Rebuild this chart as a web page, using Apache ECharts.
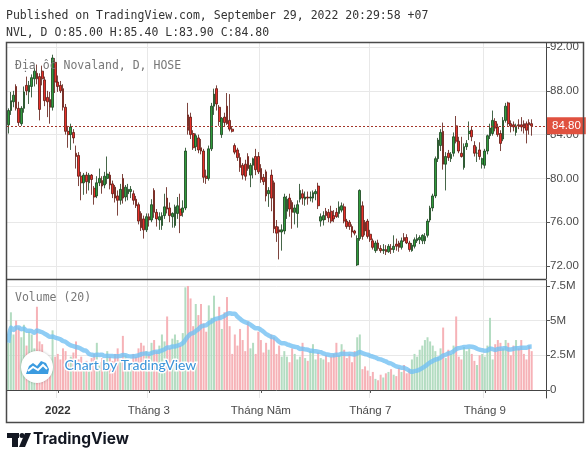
<!DOCTYPE html>
<html><head><meta charset="utf-8">
<script src="https://cdn.jsdelivr.net/npm/echarts@6/dist/echarts.min.js"></script>
<style>html,body{margin:0;padding:0;background:#fff;}#c{width:588px;height:460px;}</style>
</head><body><div id="c"></div>
<script>
const dates = [
'2021-12-07','2021-12-08','2021-12-09','2021-12-10','2021-12-13','2021-12-14','2021-12-15','2021-12-16','2021-12-17','2021-12-20','2021-12-21','2021-12-22','2021-12-23','2021-12-24','2021-12-27','2021-12-28','2021-12-29','2021-12-30','2021-12-31',
'2022-01-04','2022-01-05','2022-01-06','2022-01-07','2022-01-10','2022-01-11','2022-01-12','2022-01-13','2022-01-14','2022-01-17','2022-01-18','2022-01-19','2022-01-20','2022-01-21','2022-01-24','2022-01-25','2022-01-26','2022-01-27','2022-01-28',
'2022-02-07','2022-02-08','2022-02-09','2022-02-10','2022-02-11','2022-02-14','2022-02-15','2022-02-16','2022-02-17','2022-02-18','2022-02-21','2022-02-22','2022-02-23','2022-02-24','2022-02-25','2022-02-28',
'2022-03-01','2022-03-02','2022-03-03','2022-03-04','2022-03-07','2022-03-08','2022-03-09','2022-03-10','2022-03-11','2022-03-14','2022-03-15','2022-03-16','2022-03-17','2022-03-18','2022-03-21','2022-03-22','2022-03-23','2022-03-24','2022-03-25','2022-03-28','2022-03-29','2022-03-30','2022-03-31',
'2022-04-01','2022-04-04','2022-04-05','2022-04-06','2022-04-07','2022-04-08','2022-04-12','2022-04-13','2022-04-14','2022-04-15','2022-04-18','2022-04-19','2022-04-20','2022-04-21','2022-04-22','2022-04-25','2022-04-26','2022-04-27','2022-04-28','2022-04-29',
'2022-05-04','2022-05-05','2022-05-06','2022-05-09','2022-05-10','2022-05-11','2022-05-12','2022-05-13','2022-05-16','2022-05-17','2022-05-18','2022-05-19','2022-05-20','2022-05-23','2022-05-24','2022-05-25','2022-05-26','2022-05-27','2022-05-30','2022-05-31',
'2022-06-01','2022-06-02','2022-06-03','2022-06-06','2022-06-07','2022-06-08','2022-06-09','2022-06-10','2022-06-13','2022-06-14','2022-06-15','2022-06-16','2022-06-17','2022-06-20','2022-06-21','2022-06-22','2022-06-23','2022-06-24','2022-06-27','2022-06-28','2022-06-29','2022-06-30',
'2022-07-01','2022-07-04','2022-07-05','2022-07-06','2022-07-07','2022-07-08','2022-07-11','2022-07-12','2022-07-13','2022-07-14','2022-07-15','2022-07-18','2022-07-19','2022-07-20','2022-07-21','2022-07-22','2022-07-25','2022-07-26','2022-07-27','2022-07-28','2022-07-29',
'2022-08-01','2022-08-02','2022-08-03','2022-08-04','2022-08-05','2022-08-08','2022-08-09','2022-08-10','2022-08-11','2022-08-12','2022-08-15','2022-08-16','2022-08-17','2022-08-18','2022-08-19','2022-08-22','2022-08-23','2022-08-24','2022-08-25','2022-08-26','2022-08-29','2022-08-30','2022-08-31',
'2022-09-05','2022-09-06','2022-09-07','2022-09-08','2022-09-09','2022-09-12','2022-09-13','2022-09-14','2022-09-15','2022-09-16','2022-09-19','2022-09-20','2022-09-21','2022-09-22','2022-09-23','2022-09-26','2022-09-27','2022-09-28','2022-09-29'
];
// empty slots to the right of the last bar (right margin of the time scale)
const futureDates = ['2022-09-30','2022-10-03','2022-10-04','2022-10-05','2022-10-06'];

const open = [
84.9,86.2,87.0,88.4,86.4,85.0,86.4,88.5,87.9,88.4,89.1,89.6,89.3,89.8,89.0,87.4,87.2,86.5,90.6,
88.8,88.5,88.2,86.5,84.3,84.0,84.2,82.3,82.1,80.2,79.6,80.3,79.6,80.3,79.1,78.4,79.6,79.8,79.4,
80.0,80.3,79.5,79.2,78.4,78.0,80.0,78.3,78.6,78.8,78.6,78.1,77.6,76.8,76.3,75.3,
76.5,76.2,78.9,76.9,76.2,75.7,76.6,78.2,77.3,76.5,75.7,76.8,77.2,76.9,77.3,85.8,85.6,84.1,82.9,83.7,82.8,82.5,80.2,
80.0,82.7,86.6,88.2,86.5,84.0,85.6,86.6,85.3,84.5,83.0,82.6,81.9,81.2,81.3,82.0,80.3,81.2,82.0,82.0,
80.9,80.1,80.6,78.6,80.3,79.6,75.6,75.3,75.1,75.2,77.0,78.2,77.8,76.9,76.8,78.1,78.6,78.1,78.3,78.2,
78.2,78.6,79.3,76.1,76.2,77.0,76.9,77.0,76.6,76.9,76.8,77.1,77.4,76.1,76.0,75.6,75.2,72.1,74.5,77.5,76.0,76.1,
74.9,74.3,73.4,74.1,73.6,73.4,73.5,73.3,73.6,73.5,74.0,74.1,73.7,74.6,74.6,74.1,73.4,73.8,74.3,74.4,74.3,
74.3,74.8,76.2,77.3,78.4,81.8,83.0,84.3,81.3,82.3,81.8,82.3,84.8,83.4,82.3,81.0,82.9,84.1,84.4,83.0,82.3,82.6,81.3,
81.2,82.5,83.9,84.1,85.2,84.7,84.1,83.6,85.3,86.9,85.0,84.9,84.2,84.9,84.9,85.0,85.0,85.1,85.0
];
const high = [
86.4,87.9,88.0,88.6,87.0,86.6,88.4,89.3,88.9,89.5,90.1,90.4,89.6,90.3,89.3,88.0,87.9,91.3,91.0,
89.4,88.9,88.6,86.8,84.8,85.0,84.5,83.0,82.4,80.6,80.5,80.6,80.5,80.4,79.3,80.2,80.9,80.2,80.6,
82.0,80.6,79.8,79.4,78.9,79.5,80.4,79.4,79.5,79.3,78.9,78.4,77.8,77.0,76.6,76.8,
76.8,78.1,79.1,77.2,76.9,76.9,78.6,79.2,77.8,76.9,77.6,78.3,78.6,78.0,82.8,86.9,86.0,84.4,84.1,84.0,83.6,82.7,80.8,
83.0,86.9,88.2,88.5,86.7,85.6,86.0,87.8,87.7,84.7,83.2,82.8,82.3,81.4,81.7,82.3,81.4,81.9,82.7,82.4,
81.3,80.4,80.8,79.2,80.8,79.8,76.2,75.6,75.8,78.6,78.4,78.6,78.0,77.6,78.0,79.5,79.0,78.8,78.8,78.8,
78.9,79.0,79.6,76.8,77.0,77.3,77.2,77.5,77.1,77.3,77.9,77.8,77.7,76.3,76.2,75.8,75.3,74.8,79.0,77.9,76.2,76.3,
75.3,74.5,74.3,74.4,73.9,74.0,73.9,74.0,74.0,74.8,74.5,74.3,74.6,75.0,74.9,74.3,74.1,74.6,74.9,74.8,74.9,
75.0,76.3,77.5,78.6,82.0,83.7,84.5,85.1,82.4,82.6,82.4,84.2,85.7,83.8,83.8,83.2,83.5,85.2,84.7,83.4,82.9,83.3,81.9,
82.7,84.0,85.0,86.2,85.5,85.0,84.4,85.6,86.9,87.0,85.3,85.2,85.0,85.4,85.6,85.3,85.2,85.4,85.4
];
const low = [
84.1,85.8,86.5,86.2,84.8,84.8,86.0,87.6,86.8,87.4,88.4,88.6,85.3,88.5,86.6,85.6,85.0,86.2,87.8,
87.9,87.8,86.2,84.0,82.8,82.6,83.2,80.9,79.3,78.0,78.5,78.6,78.9,78.5,77.6,78.2,79.3,78.6,79.1,
79.5,79.0,78.2,77.8,76.6,77.6,77.7,77.9,78.0,78.2,77.6,77.3,75.8,75.2,74.5,75.1,
75.6,76.0,76.4,75.6,75.3,75.3,76.3,76.8,76.0,75.5,75.5,76.3,75.0,76.5,77.1,84.0,83.6,82.6,82.5,82.3,82.2,79.6,79.5,
79.8,82.5,85.8,86.2,84.8,83.7,84.7,84.9,84.3,84.2,82.2,81.6,80.6,79.9,79.8,80.7,79.2,80.0,80.3,80.4,
79.6,79.4,77.9,77.4,77.0,75.0,74.2,72.6,73.4,74.9,76.3,76.5,75.4,75.8,75.5,77.8,77.6,77.5,77.6,77.9,
77.8,78.0,77.2,75.6,75.7,76.2,76.0,75.9,76.0,76.4,76.4,76.9,75.9,75.4,75.3,74.6,74.8,72.0,74.3,74.4,74.8,74.5,
74.2,73.5,73.2,73.4,73.2,73.1,73.0,73.2,73.1,73.2,73.4,73.3,73.5,74.2,74.0,73.3,73.3,73.6,74.1,74.0,74.0,
74.0,74.6,76.0,77.0,78.2,81.5,82.5,80.8,78.9,81.6,81.5,82.0,83.2,82.3,81.9,80.8,82.6,83.5,83.4,82.0,81.5,81.7,80.9,
80.9,82.2,83.6,83.9,84.3,83.8,82.5,83.4,85.1,84.8,84.2,84.3,83.9,84.5,84.3,84.1,83.2,84.0,83.9
];
const close = [
86.2,87.1,87.6,86.4,85.1,86.4,87.9,88.0,88.5,89.2,89.8,89.1,86.3,89.1,87.1,87.0,86.5,91.0,88.8,
88.4,88.0,86.5,84.3,84.0,84.7,83.7,82.0,80.2,79.6,80.3,79.7,80.3,79.9,78.3,79.6,80.0,79.3,80.2,
80.4,79.4,78.6,78.2,78.0,79.0,78.2,79.2,79.0,79.0,78.0,77.5,76.1,75.5,75.3,76.5,
76.2,77.6,76.9,76.3,76.5,76.6,77.4,77.2,76.6,76.8,77.4,77.5,76.6,77.3,82.5,84.4,84.0,82.8,83.9,82.6,82.5,80.1,80.0,
82.7,86.6,87.7,86.8,85.2,85.5,85.1,85.0,84.5,84.3,82.4,81.9,81.0,80.3,80.2,80.9,81.2,81.8,80.8,80.6,
79.9,79.7,78.4,78.9,78.2,75.4,75.0,75.1,75.3,78.3,78.1,77.2,76.9,77.3,77.6,78.9,78.2,78.3,78.2,78.3,
78.7,78.8,77.5,76.5,76.6,76.6,76.4,76.1,76.3,76.5,77.4,77.5,76.1,75.6,75.6,75.1,75.0,74.5,78.9,74.7,75.2,74.7,
74.4,73.7,74.1,73.6,73.4,73.5,73.3,73.8,73.5,73.8,73.8,73.7,74.3,74.3,74.1,73.5,73.9,74.4,74.5,74.6,74.8,
74.7,76.1,77.3,78.4,81.8,83.5,84.2,81.3,82.0,81.9,82.2,83.8,83.4,82.5,82.0,82.9,83.2,84.3,83.8,82.3,82.3,82.0,81.8,
82.5,83.9,84.6,85.3,84.6,84.0,83.2,85.3,86.6,85.0,84.8,84.7,84.8,84.8,84.7,84.6,84.4,84.9,84.8
];
// volume in millions of shares
const volume = [
3.4,5.6,4.0,5.0,4.5,3.8,4.7,3.2,4.2,4.0,3.0,6.0,3.5,3.3,2.6,2.3,2.0,4.3,2.4,
2.6,2.2,3.0,2.8,2.0,2.4,2.7,3.5,2.2,2.4,1.9,2.1,1.8,2.3,2.6,3.4,2.0,2.3,2.2,
2.8,2.4,2.1,2.6,3.0,2.2,3.9,2.5,2.0,1.8,2.6,2.4,3.0,3.4,3.2,2.8,
2.6,3.4,3.6,2.8,3.2,4.0,3.5,5.3,3.0,3.7,4.0,3.6,3.2,4.1,7.4,7.5,6.6,4.6,6.2,5.4,6.2,4.8,4.2,
6.1,5.2,6.8,5.0,6.0,4.4,5.6,6.7,4.6,2.6,4.0,3.2,4.4,3.6,2.8,4.9,3.0,3.4,2.6,4.2,
3.6,2.7,3.4,2.9,4.0,3.8,2.6,3.2,2.4,2.8,2.4,2.0,3.0,2.6,2.2,2.4,3.4,2.3,2.1,2.8,
3.3,2.2,2.7,2.3,2.2,2.5,2.0,2.4,2.6,3.4,2.5,3.3,2.9,2.3,2.6,2.0,2.8,3.8,4.0,1.5,1.7,1.4,
1.0,1.3,0.8,0.7,1.1,0.9,1.2,1.3,1.5,1.1,1.0,1.6,1.3,1.8,1.2,1.5,2.2,2.6,2.4,2.9,3.2,
3.6,3.8,3.5,3.2,2.8,2.4,3.0,4.5,2.3,2.9,2.6,3.2,5.3,2.4,2.2,3.1,2.8,3.0,2.6,2.1,1.8,2.5,2.6,
2.4,3.2,5.2,2.2,3.3,3.6,3.4,3.0,3.6,3.4,2.5,3.2,3.6,3.0,3.6,2.6,2.2,3.2,2.8
];
const priceTicks = [72, 76, 80, 84, 88, 92];
const volumeTicks = [0, 2.5, 5, 7.5];
const monthStarts = ['2022-01-04','2022-03-01','2022-05-04','2022-07-01','2022-09-05'];
const monthNames = ['2022','Tháng 3','Tháng Năm','Tháng 7','Tháng 9'];
const maLength = 20;

const cats = dates.concat(futureDates);
const candles = dates.map((d, i) => [open[i], close[i], low[i], high[i]]);
const volBars = dates.map((d, i) => ({
  value: volume[i],
  itemStyle: { color: close[i] >= open[i] ? '#b3dcc1' : '#f6b2b7' }
}));
const maVol = volume.map((v, i) => {
  const s = Math.max(0, i - maLength + 1);
  const w = volume.slice(s, i + 1);
  return +(w.reduce((a, b) => a + b, 0) / w.length).toFixed(3);
});
const lastPrice = close[close.length - 1];
const isMonth = (idx, val) => monthStarts.indexOf(val) >= 0;

const axisFont = { fontFamily: 'Liberation Sans, Arial, sans-serif', fontSize: 11.5, color: '#4a4a4a' };
const gridLine = { show: true, lineStyle: { color: '#e8e8e8', width: 1 } };
const mono = '11.5px "DejaVu Sans Mono", monospace';

const chart = echarts.init(document.getElementById('c'), null, { renderer: 'canvas' });
chart.setOption({
  animation: false,
  backgroundColor: '#ffffff',
  grid: [
    { left: 7, right: 42, top: 43, height: 236 },
    { left: 7, right: 42, top: 280, height: 118 }
  ],
  xAxis: [
    { type: 'category', gridIndex: 0, data: cats, boundaryGap: true,
      axisLine: { show: false }, axisTick: { show: false }, axisLabel: { show: false },
      splitLine: { show: true, interval: isMonth, lineStyle: { color: '#e8e8e8' } } },
    { type: 'category', gridIndex: 1, data: cats, boundaryGap: true,
      axisLine: { show: true, lineStyle: { color: '#444', width: 1 } },
      axisTick: { show: true, interval: isMonth, alignWithLabel: true, length: 3, lineStyle: { color: '#555' } },
      axisLabel: Object.assign({ interval: isMonth, margin: 7,
        formatter: (v) => { const k = monthStarts.indexOf(v); return k >= 0 ? (k === 0 ? '{y|' + monthNames[k] + '}' : monthNames[k]) : ''; },
        rich: { y: { fontWeight: 'bold', fontFamily: 'Liberation Sans, Arial, sans-serif', fontSize: 11.5, color: '#333' } } }, axisFont),
      splitLine: { show: true, interval: isMonth, lineStyle: { color: '#e8e8e8' } } }
  ],
  yAxis: [
    { type: 'value', gridIndex: 0, position: 'right', min: 70.81, max: 92.37, scale: true,
      axisLine: { show: true, lineStyle: { color: '#444' } },
      axisTick: { show: true, customValues: priceTicks, length: 4, lineStyle: { color: '#555' } },
      axisLabel: Object.assign({ customValues: priceTicks, margin: 4, formatter: (v) => v.toFixed(2) }, axisFont),
      splitLine: gridLine },
    { type: 'value', gridIndex: 1, position: 'right', min: -0.58, max: 7.93,
      axisLine: { show: true, lineStyle: { color: '#444' } },
      axisTick: { show: true, customValues: volumeTicks, length: 4, lineStyle: { color: '#555' } },
      axisLabel: Object.assign({ customValues: volumeTicks, margin: 4, formatter: (v) => v === 0 ? '0' : v + 'M' }, axisFont),
      splitLine: gridLine }
  ],
  series: [
    { type: 'candlestick', name: 'NVL', xAxisIndex: 0, yAxisIndex: 0, data: candles, barWidth: 2.2,
      itemStyle: { color: '#2f9c3c', color0: '#e9302a', borderColor: '#173f1a', borderColor0: '#5c150e', borderWidth: 0.8 },
      markLine: { silent: true, symbol: ['none', 'none'], animation: false,
        lineStyle: { color: '#a3362a', type: [2, 2], width: 1 },
        label: { show: true, position: 'end', distance: 1, formatter: () => lastPrice.toFixed(2),
          backgroundColor: '#e0513f', color: '#fff', padding: [3, 5, 2, 5],
          fontFamily: 'Liberation Sans, Arial, sans-serif', fontSize: 11.5 },
        data: [{ yAxis: lastPrice }] } },
    { type: 'bar', name: 'Volume', xAxisIndex: 1, yAxisIndex: 1, data: volBars, barWidth: 2 },
    { type: 'line', name: 'Volume MA', xAxisIndex: 1, yAxisIndex: 1, data: maVol, showSymbol: false, smooth: 0.3,
      lineStyle: { color: 'rgba(115,192,242,0.8)', width: 4.5 }, z: 3 }
  ],
  graphic: [
    { type: 'text', left: 6, top: 10, style: { text: 'Published on TradingView.com, September 29, 2022 20:29:58 +07', fill: '#333', font: mono } },
    { type: 'text', left: 6, top: 27, style: { text: 'NVL, D O:85.00 H:85.40 L:83.90 C:84.80', fill: '#333', font: mono } },
    { type: 'text', left: 15, top: 60, z: 10, style: { text: 'Địa ốc Novaland, D, HOSE', fill: '#777', font: mono } },
    { type: 'text', left: 15, top: 292, z: 10, style: { text: 'Volume (20)', fill: '#777', font: mono } },
    { type: 'rect', z: 20, shape: { x: 6.5, y: 42.5, width: 577, height: 380 }, style: { fill: 'none', stroke: '#4a4a4a', lineWidth: 1.5 } },
    { type: 'line', z: 20, shape: { x1: 6, y1: 279.5, x2: 546, y2: 279.5 }, style: { stroke: '#444', lineWidth: 1.5 } },
    { type: 'circle', z: 15, shape: { cx: 37, cy: 367, r: 16 }, style: { fill: '#fff', shadowBlur: 3, shadowColor: 'rgba(0,0,0,0.25)' } },
    { type: 'polygon', z: 16, shape: { points: [[26,374],[29,366],[33,363],[37,366],[41,361],[46,363],[49,369],[48,374]] }, style: { fill: '#3b9be0' } },
    { type: 'polyline', z: 17, shape: { points: [[28,371],[33,367],[38,370],[43,365],[47,369]] }, style: { stroke: '#fff', lineWidth: 2, fill: 'none' } },
    { type: 'text', z: 16, left: 63, top: 357, style: { text: 'Chart by TradingView', fill: '#3a93d8', font: '14px Lato, "Open Sans", sans-serif', stroke: '#fff', lineWidth: 3 } },
    { type: 'rect', z: 20, shape: { x: 7, y: 433, width: 12, height: 5 }, style: { fill: '#131722' } },
    { type: 'rect', z: 20, shape: { x: 12, y: 433, width: 6, height: 14 }, style: { fill: '#131722' } },
    { type: 'circle', z: 20, shape: { cx: 22, cy: 435.5, r: 2.5 }, style: { fill: '#131722' } },
    { type: 'polygon', z: 20, shape: { points: [[25,433],[31,433],[25,447],[19,447]] }, style: { fill: '#131722' } },
    { type: 'text', z: 20, left: 33, top: 431, style: { text: 'TradingView', fill: '#131722', font: 'bold 15.5px Inter, Roboto, sans-serif' } }
  ]
});
</script></body></html>
